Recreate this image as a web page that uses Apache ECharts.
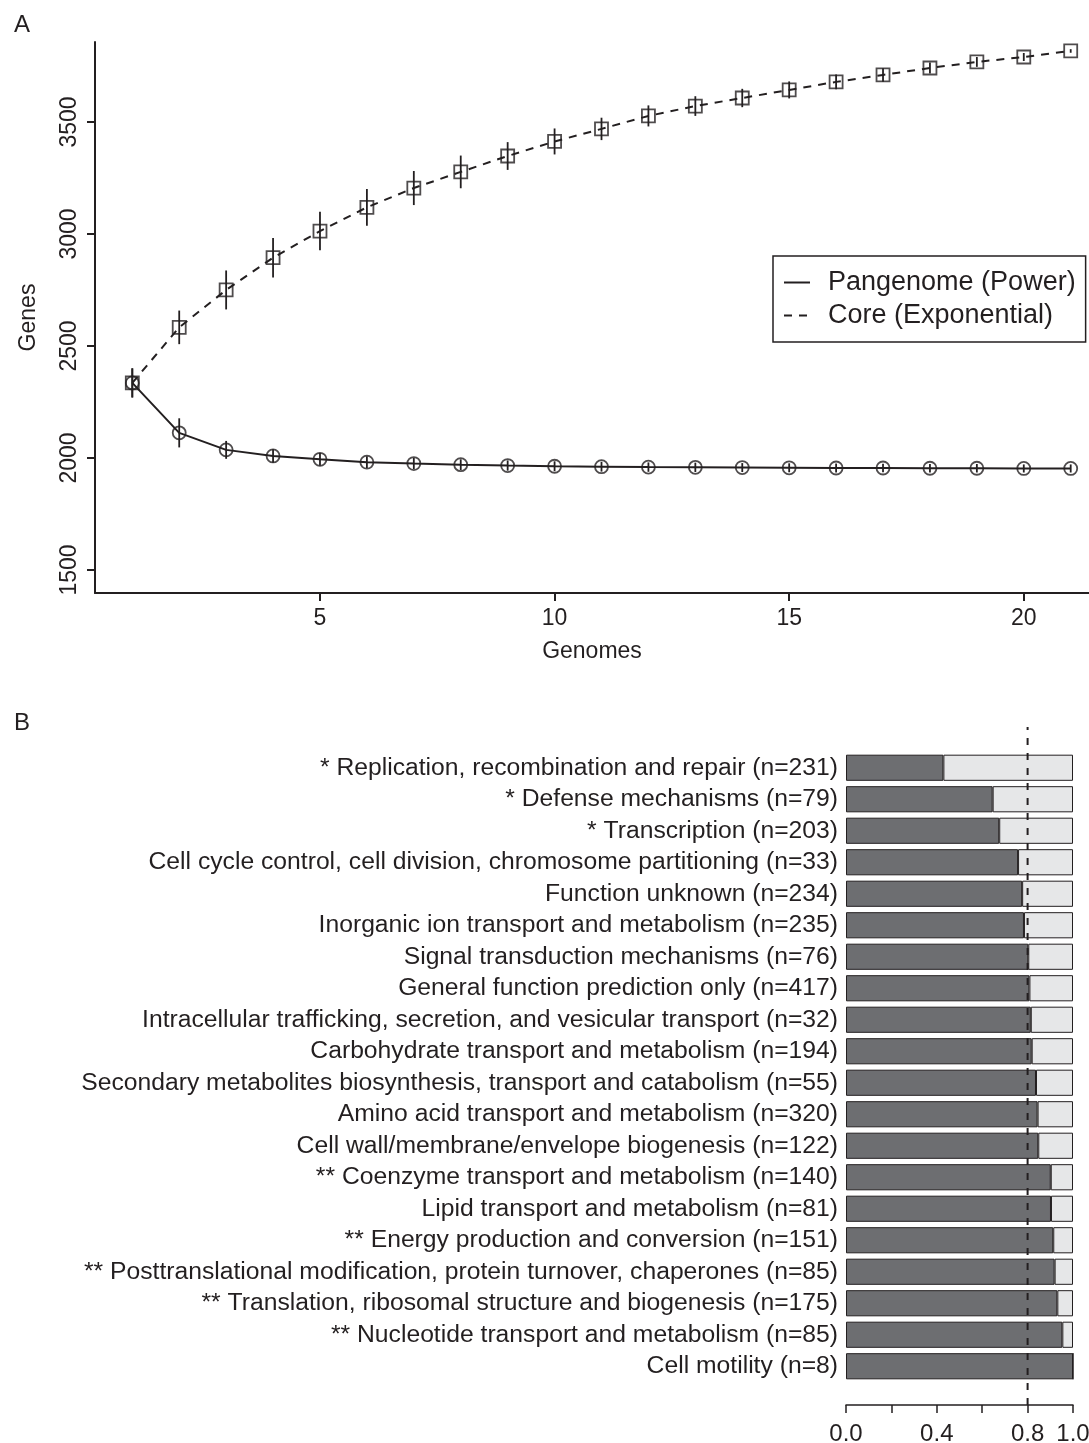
<!DOCTYPE html>
<html>
<head>
<meta charset="utf-8">
<script src="https://cdn.jsdelivr.net/npm/echarts@6/dist/echarts.min.js"></script>
<style>
  html, body { margin: 0; padding: 0; background: #fff; }
  #main { width: 1089px; height: 1443px; }
</style>
</head>
<body>
<div id="main"></div>
<script>
// panel A: gene counts vs number of genomes
var genomes = [1, 2, 3, 4, 5, 6, 7, 8, 9, 10, 11, 12, 13, 14, 15, 16, 17, 18, 19, 20, 21];
var panMean = [2335, 2112, 2036, 2009, 1994, 1981, 1975, 1970, 1966, 1963, 1961, 1959, 1958, 1957, 1956, 1955, 1955, 1954, 1954, 1953, 1953];
var panErr = [65, 65, 40, 30, 28, 26, 25, 24, 23, 22, 22, 21, 21, 20, 20, 20, 19, 19, 19, 18, 18];
var coreMean = [2335, 2583, 2750, 2894, 3013, 3119, 3205, 3277, 3348, 3413, 3469, 3527, 3571, 3607, 3643, 3679, 3710, 3741, 3768, 3790, 3817];
var coreErr = [65, 75, 87, 88, 86, 82, 76, 73, 62, 58, 50, 47, 44, 41, 38, 33, 30, 25, 22, 18, 8];
var yTicksA = [1500, 2000, 2500, 3000, 3500];
var xTicksA = [5, 10, 15, 20];

// panel B: COG categories, share of genes (dark part)
var cogNames = [
    '* Replication, recombination and repair (n=231)',
    '* Defense mechanisms (n=79)',
    '* Transcription (n=203)',
    'Cell cycle control, cell division, chromosome partitioning (n=33)',
    'Function unknown (n=234)',
    'Inorganic ion transport and metabolism (n=235)',
    'Signal transduction mechanisms (n=76)',
    'General function prediction only (n=417)',
    'Intracellular trafficking, secretion, and vesicular transport (n=32)',
    'Carbohydrate transport and metabolism (n=194)',
    'Secondary metabolites biosynthesis, transport and catabolism (n=55)',
    'Amino acid transport and metabolism (n=320)',
    'Cell wall/membrane/envelope biogenesis (n=122)',
    '** Coenzyme transport and metabolism (n=140)',
    'Lipid transport and metabolism (n=81)',
    '** Energy production and conversion (n=151)',
    '** Posttranslational modification, protein turnover, chaperones (n=85)',
    '** Translation, ribosomal structure and biogenesis (n=175)',
    '** Nucleotide transport and metabolism (n=85)',
    'Cell motility (n=8)'
];
var cogShare = [0.429, 0.646, 0.675, 0.758, 0.776, 0.784, 0.803, 0.808, 0.814, 0.818, 0.837, 0.844, 0.847, 0.902, 0.903, 0.913, 0.919, 0.931, 0.953, 1.0];
var xTicksB = [0, 0.2, 0.4, 0.6, 0.8, 1.0];
var xLabelsB = [0, 0.4, 0.8, 1.0];
var cutoff = 0.8;

var ink = '#231f20';
var font = 'Liberation Sans, Arial, Helvetica, sans-serif';

function pairs(xs, ys) {
    return xs.map(function (x, i) { return [x, ys[i]]; });
}
function errRows(xs, m, e) {
    return xs.map(function (x, i) { return [x, m[i] - e[i], m[i] + e[i]]; });
}
function errBar(params, api) {
    var lo = api.coord([api.value(0), api.value(1)]);
    var hi = api.coord([api.value(0), api.value(2)]);
    return {
        type: 'line',
        shape: { x1: lo[0], y1: lo[1], x2: hi[0], y2: hi[1] },
        style: { stroke: ink, lineWidth: 1.8 }
    };
}

var chart = echarts.init(document.getElementById('main'));

var option = {
    backgroundColor: '#fff',
    animation: false,
    textStyle: { fontFamily: font, color: ink },
    title: [
        { text: 'A', left: 9, top: 8, textStyle: { fontSize: 24, fontWeight: 'normal', color: ink, fontFamily: font } },
        { text: 'B', left: 9, top: 706, textStyle: { fontSize: 24, fontWeight: 'normal', color: ink, fontFamily: font } }
    ],
    legend: {
        data: ['Pangenome (Power)', 'Core (Exponential)'],
        orient: 'vertical',
        left: 773,
        top: 256,
        padding: [13, 10, 13, 10],
        itemGap: 6,
        itemWidth: 26,
        itemHeight: 14,
        borderColor: ink,
        borderWidth: 1.5,
        borderRadius: 0,
        itemStyle: { color: 'rgba(0,0,0,0)', borderWidth: 0, opacity: 0 },
        textStyle: { fontSize: 27, color: ink, fontFamily: font, padding: [0, 0, 0, 13] }
    },
    grid: [
        { left: 95, top: 42, width: 994, height: 551, outerBoundsMode: 'none' },
        { left: 846, top: 752, width: 227, height: 630, outerBoundsMode: 'none' },
        { left: 846, top: 727, width: 227, height: 678, outerBoundsMode: 'none' }
    ],
    xAxis: [{
        type: 'value',
        gridIndex: 0,
        min: 0.205,
        max: 21.39,
        name: 'Genomes',
        nameLocation: 'middle',
        nameGap: 47,
        nameTextStyle: { fontSize: 23, color: ink, fontFamily: font },
        axisLine: { show: true, onZero: false, lineStyle: { color: ink, width: 2 } },
        axisTick: { show: true, length: 8, lineStyle: { color: ink, width: 2 }, customValues: xTicksA },
        axisLabel: { fontSize: 23, color: ink, margin: 14, fontFamily: font, customValues: xTicksA },
        splitLine: { show: false }
    }, {
        type: 'value',
        gridIndex: 1,
        min: 0,
        max: 1,
        offset: 23,
        axisLine: { show: true, onZero: false, lineStyle: { color: ink, width: 1.5 } },
        axisTick: { show: true, length: 8, lineStyle: { color: ink, width: 1.5 }, customValues: xTicksB },
        axisLabel: {
            fontSize: 24, color: ink, margin: 17, fontFamily: font, customValues: xLabelsB,
            formatter: function (v) { return v.toFixed(1); }
        },
        splitLine: { show: false }
    }, {
        type: 'value',
        gridIndex: 2,
        min: 0,
        max: 1,
        show: false
    }],
    yAxis: [{
        type: 'value',
        gridIndex: 0,
        min: 1397,
        max: 3857,
        name: 'Genes',
        nameLocation: 'middle',
        nameGap: 55,
        nameTextStyle: { fontSize: 23, color: ink, fontFamily: font },
        axisLine: { show: true, lineStyle: { color: ink, width: 2 } },
        axisTick: { show: true, length: 8, lineStyle: { color: ink, width: 2 }, customValues: yTicksA },
        axisLabel: {
            fontSize: 23, color: ink, rotate: 90, margin: 14, fontFamily: font, customValues: yTicksA,
            formatter: function (v) { return String(v); }
        },
        splitLine: { show: false }
    }, {
        type: 'category',
        gridIndex: 1,
        inverse: true,
        data: cogNames,
        axisLine: { show: false },
        axisTick: { show: false },
        axisLabel: { interval: 0, fontSize: 24.7, color: ink, margin: 8, fontFamily: font }
    }, {
        type: 'value',
        gridIndex: 2,
        min: 0,
        max: 1,
        show: false
    }],
    series: [
        {
            name: 'Pangenome (Power)',
            type: 'line',
            data: pairs(genomes, panMean),
            symbol: 'none',
            color: ink,
            lineStyle: { color: ink, width: 2 },
            z: 2
        },
        {
            name: 'Core (Exponential)',
            type: 'line',
            data: pairs(genomes, coreMean),
            symbol: 'none',
            color: ink,
            lineStyle: { color: ink, width: 2, type: [8, 7] },
            z: 2
        },
        {
            type: 'scatter',
            data: pairs(genomes, panMean),
            symbol: 'circle',
            symbolSize: 13,
            itemStyle: { color: 'rgba(0,0,0,0)', borderColor: ink, borderWidth: 1.8 },
            z: 3
        },
        {
            type: 'scatter',
            data: pairs(genomes, coreMean),
            symbol: 'rect',
            symbolSize: 13,
            itemStyle: { color: 'rgba(0,0,0,0)', borderColor: ink, borderWidth: 1.8 },
            z: 3
        },
        {
            type: 'custom',
            data: errRows(genomes, panMean, panErr),
            encode: { x: 0, y: [1, 2] },
            renderItem: errBar,
            z: 4
        },
        {
            type: 'custom',
            data: errRows(genomes, coreMean, coreErr),
            encode: { x: 0, y: [1, 2] },
            renderItem: errBar,
            z: 4
        },
        {
            type: 'bar',
            xAxisIndex: 1,
            yAxisIndex: 1,
            stack: 'cog',
            barWidth: '83%',
            data: cogShare,
            itemStyle: { color: '#6d6e71', borderColor: ink, borderWidth: 1 },
            z: 2
        },
        {
            type: 'bar',
            xAxisIndex: 1,
            yAxisIndex: 1,
            stack: 'cog',
            barWidth: '83%',
            data: cogShare.map(function (v) { return 1 - v; }),
            itemStyle: { color: '#e6e7e8', borderColor: ink, borderWidth: 1 },
            z: 2
        },
        {
            type: 'line',
            xAxisIndex: 2,
            yAxisIndex: 2,
            data: [[cutoff, 0], [cutoff, 1]],
            symbol: 'none',
            lineStyle: { color: ink, width: 2, type: [7, 8] },
            z: 5
        }
    ]
};

chart.setOption(option);
</script>
</body>
</html>
